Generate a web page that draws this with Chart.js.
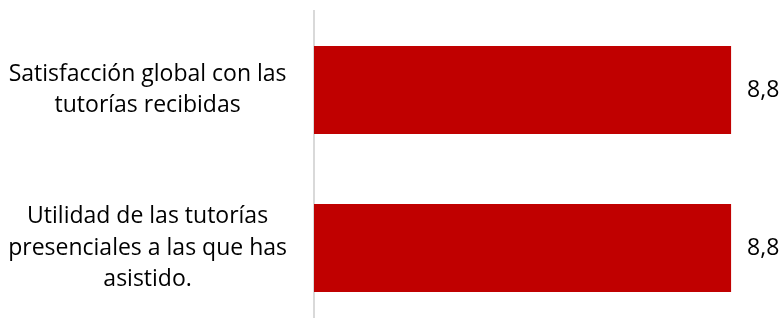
<!DOCTYPE html>
<html>
<head>
<meta charset="utf-8">
<script src="https://cdn.jsdelivr.net/npm/chart.js@4"></script>
<style>
    html, body { margin: 0; padding: 0; background: #ffffff; overflow: hidden; }
    #wrap { width: 779px; height: 327px; position: relative; }
</style>
</head>
<body>
<div id="wrap"><canvas id="chart"></canvas></div>
<script>
// Datos del gráfico
const categories = [
    ['Satisfacción global con las', 'tutorías recibidas'],
    ['Utilidad de las tutorías', 'presenciales a las que has', 'asistido.']
];
const values = [8.8, 8.8];
const axisMax = 9.6;

const labelFont = 'Open Sans';
const labelSize = 23;

// Etiquetas de valor al final de cada barra
const valueLabels = {
    id: 'valueLabels',
    afterDatasetsDraw(chart) {
        const ctx = chart.ctx;
        const meta = chart.getDatasetMeta(0);
        ctx.save();
        ctx.font = labelSize + 'px "' + labelFont + '"';
        ctx.fillStyle = '#000000';
        ctx.textAlign = 'left';
        ctx.textBaseline = 'middle';
        meta.data.forEach((bar, i) => {
            const txt = values[i].toFixed(1).replace('.', ',');
            ctx.fillText(txt, bar.x + 16, bar.y);
        });
        ctx.restore();
    }
};

const ctx = document.getElementById('chart').getContext('2d');
new Chart(ctx, {
    type: 'bar',
    data: {
        labels: categories,
        datasets: [{
            data: values,
            backgroundColor: '#c00000',
            borderWidth: 0,
            categoryPercentage: 1,
            barPercentage: 0.557
        }]
    },
    options: {
        indexAxis: 'y',
        responsive: true,
        maintainAspectRatio: false,
        animation: false,
        layout: { padding: { top: 11, right: 10, left: 0, bottom: 0 } },
        plugins: {
            legend: { display: false },
            tooltip: { enabled: false }
        },
        scales: {
            x: {
                display: false,
                min: 0,
                max: axisMax
            },
            y: {
                afterFit(scale) {
                    scale.width = 314;
                    scale.paddingTop = 0;
                    scale.paddingBottom = 0;
                },
                grid: { display: false, drawTicks: false },
                border: { display: true, color: '#d9d9d9', width: 2 },
                ticks: {
                    crossAlign: 'center',
                    padding: 27,
                    color: '#000000',
                    font: { family: labelFont, size: labelSize, lineHeight: 1.35 }
                }
            }
        }
    },
    plugins: [valueLabels]
});
</script>
</body>
</html>
